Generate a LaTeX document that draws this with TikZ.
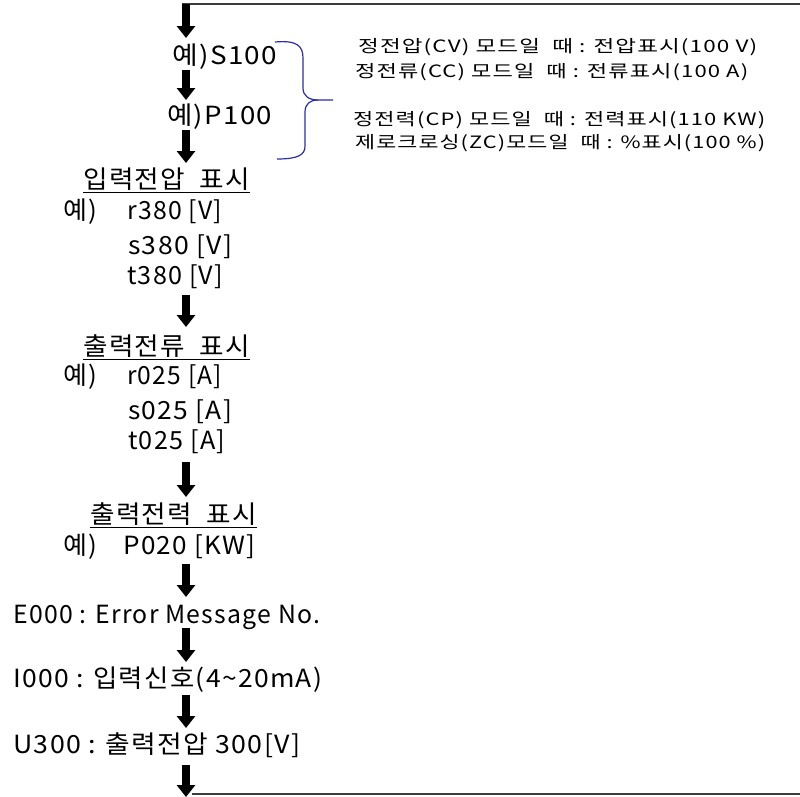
\documentclass[tikz,border=0pt]{standalone}
\usepackage{fontspec}
\usepackage{graphicx}
\setmainfont{Noto Sans CJK KR}
\newfontfamily\widefont[LetterSpace=5]{Noto Sans CJK KR}
\usetikzlibrary{arrows.meta}
\definecolor{bracecol}{RGB}{45,45,170}
\definecolor{loopcol}{RGB}{60,60,60}
\newcommand\fitw[2]{\resizebox{#1pt}{\height}{#2}}
\begin{document}
\begin{tikzpicture}[x=1pt,y=-1pt,
  big/.style={font=\widefont\fontsize{25}{26}\selectfont, anchor=west, inner sep=0pt},
  small/.style={font=\widefont\fontsize{17}{18}\selectfont, anchor=west, inner sep=0pt},
  flow/.style={line width=8pt, -{Triangle[width=18pt,length=12pt]}},
  loopline/.style={line width=1.6pt, draw=loopcol},
  bracel/.style={draw=bracecol, line width=1.2pt}]
\useasboundingbox (0,0) rectangle (800,796);
\fill[white] (0,0) rectangle (800,796);
% left column texts
\node[big] (s100) at (172,57) {\fitw{105}{예)S100}};
\node[big] (p100) at (167,117) {\fitw{105}{예)P100}};
\node[big] (vin) at (83,180) {\fitw{167}{\underline{입력전압\ \ 표시}}};
\node[big] (ex1) at (63,212) {\fitw{34}{예)}};
\node[big] (r380) at (127,212) {\fitw{95}{r380 [V]}};
\node[big] (s380) at (128,247) {\fitw{104}{s380 [V]}};
\node[big] (t380) at (127,277) {\fitw{96}{t380 [V]}};
\node[big] (iout) at (83,347) {\fitw{167}{\underline{출력전류\ \ 표시}}};
\node[big] (ex2) at (63,377) {\fitw{34}{예)}};
\node[big] (r025) at (127,377) {\fitw{95}{r025 [A]}};
\node[big] (s025) at (128,412) {\fitw{104}{s025 [A]}};
\node[big] (t025) at (128,442) {\fitw{97}{t025 [A]}};
\node[big] (pout) at (90,515) {\fitw{167}{\underline{출력전력\ \ 표시}}};
\node[big] (ex3) at (63,547) {\fitw{34}{예)}};
\node[big] (p020) at (123,547) {\fitw{132}{P020 [KW]}};
\node[big] (err) at (13,617) {\fitw{307}{E000 : Error Message No.}};
\node[big] (inp) at (13,680) {\fitw{309}{I000 : 입력신호(4{\char"007E}20mA)}};
\node[big] (u300) at (13,745) {\fitw{287}{U300 : 출력전압 300[V]}};
% right texts
\node[small] (m1) at (358,47) {\fitw{399}{정전압(CV) 모드일\ \ 때 : 전압표시(100 V)}};
\node[small] (m2) at (355,72) {\fitw{393}{정전류(CC) 모드일\ \ 때 : 전류표시(100 A)}};
\node[small] (m3) at (353,120) {\fitw{412}{정전력(CP) 모드일\ \ 때 : 전력표시(110 KW)}};
\node[small] (m4) at (355,143) {\fitw{410}{제로크로싱(ZC)모드일\ \ 때 : \%표시(100 \%)}};
% arrow coordinates
\coordinate (a1s) at (186,4);   \coordinate (a1e) at (186,38);
\coordinate (a2s) at (186,70);  \coordinate (a2e) at (186,100);
\coordinate (a3s) at (186,130); \coordinate (a3e) at (186,163);
\coordinate (a4s) at (186,295); \coordinate (a4e) at (186,327);
\coordinate (a5s) at (186,462); \coordinate (a5e) at (186,497);
\coordinate (a6s) at (186,564); \coordinate (a6e) at (186,597);
\coordinate (a7s) at (186,628); \coordinate (a7e) at (186,662);
\coordinate (a8s) at (186,695); \coordinate (a8e) at (186,728);
\coordinate (a9s) at (186,765); \coordinate (a9e) at (186,797);
\coordinate (topL) at (182,4);  \coordinate (topR) at (800,4);
\coordinate (botL) at (192,794); \coordinate (botR) at (800,794);
% loop lines
\draw[loopline] (topL) -- (topR);
\draw[loopline] (botL) -- (botR);
% flow arrows
\foreach \i in {1,...,9} {\draw[flow] (a\i s) -- (a\i e);}
% brace
\draw[bracel] (275,42) .. controls (297,40) and (303,46) .. (303,58)
  -- (303,88) .. controls (303,96) and (309,100) .. (318,100) -- (333,100);
\draw[bracel] (318,100) .. controls (310,100) and (305,104) .. (305,112)
  -- (305,146) .. controls (305,155) and (298,159) .. (277,159);
\end{tikzpicture}
\end{document}
